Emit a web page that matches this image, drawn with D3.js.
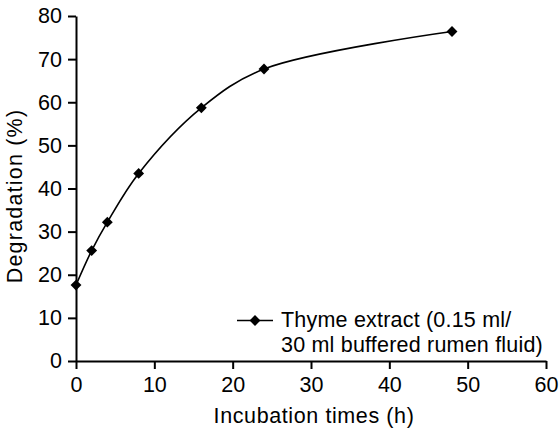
<!DOCTYPE html>
<html>
<head>
<meta charset="utf-8">
<script src="https://cdn.jsdelivr.net/npm/d3@7"></script>
<style>
  body { margin: 0; background: #fff; }
  svg text { font-family: "Liberation Sans", Arial, sans-serif; fill: #000; }
</style>
</head>
<body>
<div id="chartArea"></div>
<script>
// incubation times (h) and degradation (%)
var hours = [0, 2, 4, 8, 16, 24, 48];
var degradation = [17.6, 25.6, 32.2, 43.5, 58.7, 67.7, 76.4];
var xTicks = [0, 10, 20, 30, 40, 50, 60];
var yTicks = [0, 10, 20, 30, 40, 50, 60, 70, 80];
var legendLines = ["Thyme extract (0.15 ml/", "30 ml buffered rumen fluid)"];

var width = 560, height = 429;
var margin = {left: 76, right: 14, top: 16, bottom: 68};

var svg = d3.select("#chartArea").append("svg")
    .attr("width", width)
    .attr("height", height);

var x = d3.scaleLinear().domain([0, 60]).range([margin.left, width - margin.right]);
var y = d3.scaleLinear().domain([0, 80]).range([height - margin.bottom, margin.top]);

// x axis
var xAxis = svg.append("g")
    .attr("transform", "translate(0," + y(0) + ")")
    .call(d3.axisBottom(x).tickValues(xTicks).tickSize(8).tickPadding(8).tickSizeOuter(0));

// y axis
var yAxis = svg.append("g")
    .attr("transform", "translate(" + x(0) + ",0)")
    .call(d3.axisLeft(y).tickValues(yTicks).tickSize(8).tickPadding(6).tickSizeOuter(0));

[xAxis, yAxis].forEach(function (g) {
    g.select(".domain").attr("stroke", "#000").attr("stroke-width", 2);
    g.selectAll(".tick line").attr("stroke", "#000").attr("stroke-width", 2);
    g.selectAll(".tick text")
        .attr("font-size", 21.5)
        .style("font-family", "'Liberation Sans', Arial, sans-serif")
        .attr("fill", "#000");
});

// axis titles
svg.append("text")
    .attr("x", 314)
    .attr("y", 423)
    .attr("text-anchor", "middle")
    .attr("font-size", 21.5)
    .attr("letter-spacing", 0.6)
    .text("Incubation times (h)");

svg.append("text")
    .attr("transform", "translate(22,196) rotate(-90)")
    .attr("text-anchor", "middle")
    .attr("font-size", 21.5)
    .attr("letter-spacing", 1.2)
    .text("Degradation (%)");

// smoothed line
var pts = hours.map(function (h, i) { return [h, degradation[i]]; });
var line = d3.line()
    .x(d => x(d[0]))
    .y(d => y(d[1]))
    .curve(d3.curveCatmullRom.alpha(0.5));

svg.append("path")
    .datum(pts)
    .attr("fill", "none")
    .attr("stroke", "#000")
    .attr("stroke-width", 1.6)
    .attr("d", line);

var diamond = d3.symbol().type(d3.symbolDiamond2).size(75);

svg.selectAll("path.pt")
    .data(pts)
    .enter().append("path")
    .attr("class", "pt")
    .attr("transform", d => "translate(" + x(d[0]) + "," + y(d[1]) + ")")
    .attr("d", diamond)
    .attr("fill", "#000");

// legend
var legend = svg.append("g");
legend.append("line")
    .attr("x1", 237).attr("x2", 273)
    .attr("y1", 320.5).attr("y2", 320.5)
    .attr("stroke", "#000").attr("stroke-width", 1.6);
legend.append("path")
    .attr("transform", "translate(255,320.5)")
    .attr("d", diamond)
    .attr("fill", "#000");
legend.selectAll("text")
    .data(legendLines)
    .enter().append("text")
    .attr("x", 281)
    .attr("y", (d, i) => 327 + i * 25)
    .attr("font-size", 21.5)
    .attr("letter-spacing", 0.2)
    .text(d => d);
</script>
</body>
</html>
